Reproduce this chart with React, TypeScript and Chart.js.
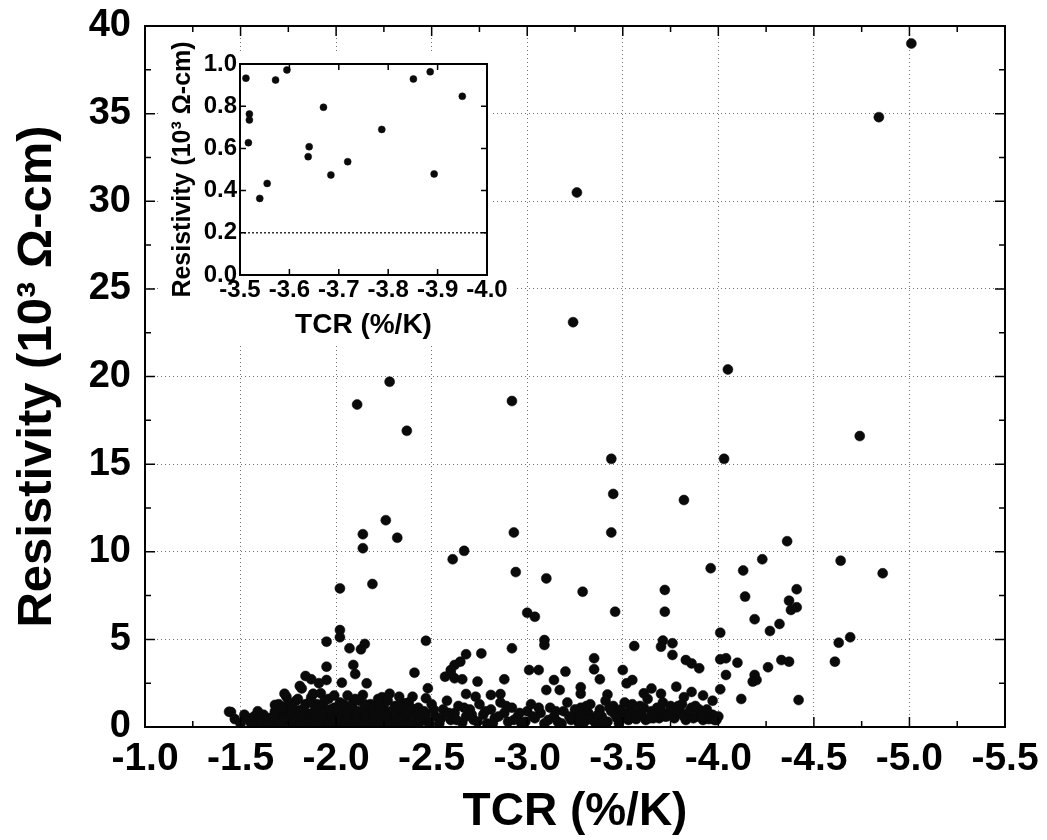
import React, { useEffect, useRef } from "react";
import { Chart, registerables } from "chart.js";

Chart.register(...registerables);

const FONT = "'Liberation Sans', Arial, Helvetica, sans-serif";

// ---------- Main chart axes ----------
const mainXMin = -5.5;
const mainXMax = -1.0;
const mainXStep = 0.5;
const mainYMin = 0;
const mainYMax = 40;
const mainYStep = 5;
const mainXTitle = "TCR (%/K)";
const mainYTitle = "Resistivity (10³ Ω-cm)";

// ---------- Main chart data: high outliers ----------
const upperTcr = [
  -5.01, -4.84, -3.26, -3.24, -2.28, -2.11, -2.37, -2.92, -4.05, -4.74,
  -4.03, -3.44, -3.45, -3.44, -3.82, -2.14, -2.14, -2.26, -2.32, -2.93,
  -2.67, -2.61, -2.94, -3.10, -3.29, -2.02, -2.19, -4.36, -4.23, -3.96,
  -4.13, -4.64, -4.86, -4.41, -4.14, -4.37, -4.38, -4.41, -4.19, -4.32,
  -4.27, -4.01, -4.69, -3.72, -3.72, -3.46, -3.00, -3.04, -2.02, -2.02,
];
const upperRes = [
  39.0, 34.8, 30.5, 23.1, 19.7, 18.4, 16.9, 18.6, 20.4, 16.6,
  15.3, 15.3, 13.3, 11.1, 12.95, 11.0, 10.2, 11.8, 10.8, 11.1,
  10.05, 9.57, 8.84, 8.48, 7.72, 7.91, 8.16, 10.6, 9.57, 9.06,
  8.93, 9.49, 8.77, 7.86, 7.44, 7.21, 6.68, 6.83, 6.15, 5.88,
  5.48, 5.38, 5.12, 7.82, 6.58, 6.58, 6.52, 6.29, 5.53, 5.12,
];

// ---------- Main chart data: middle band ----------
const midTcr = [
  -4.63, -4.61, -3.83, -3.86, -3.90, -4.01, -4.04, -4.10, -4.26, -4.33,
  -4.37, -4.04, -4.19, -4.18, -4.20, -4.01, -3.97, -4.12, -4.42, -3.09,
  -3.09, -3.56, -3.71, -3.70, -3.76, -3.76, -2.92, -2.68, -2.76, -2.62,
  -2.65, -2.60, -2.62, -2.66, -2.74, -2.88, -3.01, -3.06, -3.20, -3.14,
  -3.17, -3.28, -3.35, -3.35, -3.38, -3.50, -3.52, -3.55, -3.61, -2.68,
  -2.73, -2.81, -2.86, -3.10, -1.95, -2.07, -2.13, -2.15, -2.09, -2.10,
  -1.95, -2.47, -2.41, -2.16, -2.03, -1.95, -1.84, -1.87, -1.81, -1.92,
  -1.74, -1.68, -1.44, -2.57, -2.60, -2.48, -2.47, -2.40, -2.36, -2.33,
  -2.24, -2.14, -2.09, -3.82, -3.86, -3.92, -3.28, -3.42, -3.65, -3.70,
  -3.78,
];
const midRes = [
  4.81, 3.73, 3.82, 3.63, 3.35, 3.86, 3.92, 3.67, 3.41, 3.82,
  3.73, 2.97, 2.97, 2.59, 2.68, 2.15, 1.50, 1.60, 1.54, 4.96,
  4.68, 4.62, 4.93, 4.58, 4.78, 4.11, 4.49, 4.15, 4.20, 3.54,
  3.73, 3.25, 2.78, 2.72, 2.59, 2.72, 3.25, 3.25, 3.16, 2.68,
  2.11, 2.27, 3.92, 3.29, 2.72, 3.25, 2.49, 2.68, 1.92, 1.88,
  1.73, 1.83, 1.88, 2.11, 4.87, 4.49, 4.43, 4.74, 3.54, 3.02,
  3.44, 4.92, 3.10, 2.49, 2.53, 2.68, 2.91, 2.72, 2.34, 1.92,
  1.73, 1.26, 0.87, 2.87, 3.06, 2.21, 1.64, 1.73, 1.35, 1.73,
  1.70, 1.83, 1.44, 1.70, 2.00, 1.80, 1.90, 1.85, 2.20, 1.90,
  2.30,
];

// ---------- Main chart data: dense low cluster (part 1) ----------
const clusterTcr = [
  -1.45, -1.47, -1.50, -1.53, -1.55, -1.57, -1.58, -1.60, -1.62, -1.63,
  -1.65, -1.66, -1.68, -1.69, -1.70, -1.71, -1.72, -1.73, -1.74, -1.75,
  -1.76, -1.77, -1.78, -1.79, -1.80, -1.81, -1.82, -1.83, -1.84, -1.85,
  -1.86, -1.87, -1.88, -1.89, -1.90, -1.91, -1.92, -1.93, -1.94, -1.95,
  -1.96, -1.97, -1.98, -1.99, -2.00, -2.01, -2.02, -2.03, -2.04, -2.05,
  -2.06, -2.07, -2.08, -2.09, -2.10, -2.11, -2.12, -2.13, -2.15, -2.16,
  -2.17, -2.18, -2.19, -2.20, -2.21, -2.22, -2.23, -2.25, -2.26, -2.27,
  -2.28, -2.29, -2.30, -2.31, -2.33, -2.34, -2.35, -2.37, -2.38, -2.40,
  -2.41, -2.43, -2.45, -2.46, -2.48, -2.50, -2.52, -2.54, -2.56, -2.58,
  -2.60, -2.62, -2.64, -2.66, -2.68, -2.70, -2.72, -2.75, -2.77, -2.79,
  -2.81, -2.83, -2.86, -2.88, -2.90, -2.92, -2.95, -2.97, -3.00, -3.02,
  -3.04, -3.07, -3.09, -3.12, -3.14, -3.16, -3.19, -3.21, -3.23, -3.26,
  -3.28, -3.30, -3.32, -3.33, -3.35, -3.36, -3.38, -3.39, -3.41, -3.42,
  -3.44, -3.45, -3.47, -3.48, -3.50, -3.51, -3.53, -3.54, -3.56, -3.57,
  -3.59, -3.60, -3.62, -3.63, -3.65, -3.66, -3.68, -3.69, -3.71, -3.72,
  -3.74, -3.75, -3.77, -3.78, -3.80, -3.81, -3.83, -3.84, -3.86, -3.87,
  -3.89, -3.90, -3.92, -3.93, -3.95, -3.96, -3.98, -4.00,
];
const clusterRes = [
  0.85, 0.45, 0.20, 0.55, 0.30, 0.60, 0.15, 0.40, 0.70, 0.25,
  0.50, 0.10, 0.90, 0.35, 1.30, 0.60, 0.15, 1.90, 0.80, 0.40,
  1.10, 0.20, 0.65, 1.50, 0.30, 0.95, 2.20, 0.50, 1.30, 0.15,
  0.75, 1.70, 0.40, 1.00, 0.20, 2.50, 0.60, 1.20, 0.30, 0.90,
  1.60, 0.45, 0.15, 1.10, 0.70, 0.25, 1.40, 0.50, 0.90, 0.20,
  1.80, 0.60, 1.20, 0.35, 0.80, 0.15, 1.50, 0.55, 1.00, 0.25,
  0.70, 1.30, 0.40, 0.90, 0.15, 1.60, 0.60, 1.10, 0.30, 0.80,
  1.90, 0.45, 0.20, 1.20, 0.65, 0.30, 1.00, 0.50, 1.40, 0.80,
  0.20, 1.10, 0.50, 0.90, 0.30, 1.30, 0.60, 0.20, 1.00, 1.50,
  0.40, 0.80, 1.20, 0.25, 0.60, 1.00, 0.40, 1.30, 0.70, 0.20,
  1.00, 0.50, 1.40, 0.80, 0.30, 1.10, 0.60, 0.20, 0.90, 1.30,
  0.50, 0.80, 0.20, 1.10, 0.60, 0.30, 0.90, 1.40, 0.40, 0.70,
  1.10, 0.30, 0.80, 1.30, 0.50, 0.15, 1.00, 0.60, 1.50, 0.30,
  0.90, 1.20, 0.50, 0.20, 0.80, 1.40, 0.40, 1.00, 0.60, 0.45,
  1.20, 0.70, 0.40, 1.60, 0.90, 0.50, 1.10, 0.50, 1.40, 0.60,
  0.80, 1.20, 0.50, 0.90, 0.90, 1.30, 0.40, 0.70, 1.10, 0.50,
  0.60, 1.00, 0.40, 0.80, 0.45, 0.55, 0.40, 0.60,
];

// ---------- Main chart data: dense low cluster (part 2) ----------
const cluster2Tcr = [
  -1.52, -1.56, -1.59, -1.61, -1.64, -1.67, -1.69, -1.70, -1.72, -1.73,
  -1.75, -1.76, -1.77, -1.78, -1.80, -1.81, -1.82, -1.83, -1.85, -1.86,
  -1.87, -1.88, -1.89, -1.90, -1.92, -1.93, -1.94, -1.96, -1.97, -1.98,
  -1.99, -2.00, -2.01, -2.02, -2.04, -2.05, -2.06, -2.08, -2.09, -2.10,
  -2.11, -2.12, -2.14, -2.15, -2.16, -2.18, -2.19, -2.20, -2.22, -2.23,
  -2.24, -2.26, -2.27, -2.28, -2.30, -2.32, -2.33, -2.35, -2.36, -2.38,
  -2.39, -2.42, -2.44, -2.47, -2.49, -2.51, -2.55, -2.59, -2.63, -2.67,
  -2.71, -2.74, -2.78, -2.82, -2.85, -2.89, -2.93, -2.96, -2.99, -3.03,
  -3.06, -3.11, -3.15, -3.18, -3.22, -3.25, -3.27, -3.29, -3.31, -3.34,
  -3.37, -3.40, -3.43, -3.46, -3.49, -3.52, -3.55, -3.58, -3.61, -3.64,
  -3.67, -3.70, -3.73, -3.76, -3.79, -3.82, -3.85, -3.88, -3.91, -3.94,
  -3.97, -3.99,
];
const cluster2Res = [
  0.70, 0.10, 0.90, 0.20, 0.35, 0.60, 1.00, 0.25, 1.10, 0.50,
  1.40, 0.70, 1.20, 0.35, 1.60, 0.10, 0.60, 1.00, 0.45, 1.40,
  0.20, 1.90, 0.60, 1.30, 0.35, 0.80, 1.50, 0.20, 1.00, 0.60,
  1.80, 0.30, 1.00, 0.55, 1.30, 0.40, 0.80, 0.15, 1.00, 1.60,
  0.50, 0.90, 0.30, 1.30, 0.60, 0.20, 1.10, 0.50, 0.90, 1.30,
  0.30, 0.70, 1.50, 0.20, 1.00, 0.50, 1.20, 0.30, 0.80, 0.20,
  1.10, 0.60, 0.30, 0.70, 0.15, 1.00, 0.50, 0.80, 0.40, 1.10,
  0.70, 0.30, 0.90, 0.20, 0.60, 1.20, 0.40, 0.80, 0.30, 0.60,
  1.10, 0.40, 0.90, 0.20, 0.60, 1.00, 0.30, 0.70, 1.20, 0.40,
  0.70, 0.30, 1.10, 0.70, 1.00, 0.50, 1.30, 0.80, 1.10, 0.50,
  0.80, 1.00, 0.60, 0.90, 1.20, 0.60, 0.90, 1.20, 0.60, 1.00,
  0.70, 0.40,
];

// ---------- Inset axes & data ----------
const insetXMin = -4.0;
const insetXMax = -3.5;
const insetXStep = 0.1;
const insetYMin = 0;
const insetYMax = 1.0;
const insetYStep = 0.2;
const insetGridValues = [0.2];
const insetTcr = [
  -3.512, -3.572, -3.595, -3.519, -3.519, -3.517, -3.540, -3.555,
  -3.669, -3.640, -3.638, -3.684, -3.718, -3.787, -3.851, -3.885,
  -3.893, -3.950,
];
const insetRes = [
  0.933, 0.924, 0.972, 0.763, 0.735, 0.627, 0.363, 0.434,
  0.795, 0.608, 0.561, 0.474, 0.537, 0.690, 0.929, 0.963,
  0.479, 0.847,
];

const toPoints = (xs: number[], ys: number[]) => xs.map((x, i) => ({ x, y: ys[i] }));

function makeFramePlugin(id: string, frameWidth: number, majorLen: number, minorLen: number, withMinor: boolean) {
  return {
    id,
    afterDraw(chart: any) {
      const { ctx, chartArea: a } = chart;
      const xs = chart.scales.x;
      const ys = chart.scales.y;
      const xv: number[] = xs.ticks.map((t: any) => t.value);
      const yv: number[] = ys.ticks.map((t: any) => t.value);
      ctx.save();
      ctx.strokeStyle = "#000";
      ctx.lineWidth = 1.5;
      ctx.beginPath();
      const drawX = (v: number, len: number) => {
        const p = xs.getPixelForValue(v);
        ctx.moveTo(p, a.bottom);
        ctx.lineTo(p, a.bottom - len);
        ctx.moveTo(p, a.top);
        ctx.lineTo(p, a.top + len);
      };
      const drawY = (v: number, len: number) => {
        const p = ys.getPixelForValue(v);
        ctx.moveTo(a.left, p);
        ctx.lineTo(a.left + len, p);
        ctx.moveTo(a.right, p);
        ctx.lineTo(a.right - len, p);
      };
      xv.forEach((v) => drawX(v, majorLen));
      yv.forEach((v) => drawY(v, majorLen));
      if (withMinor) {
        for (let i = 0; i < xv.length - 1; i++) drawX((xv[i] + xv[i + 1]) / 2, minorLen);
        for (let i = 0; i < yv.length - 1; i++) drawY((yv[i] + yv[i + 1]) / 2, minorLen);
      }
      ctx.stroke();
      ctx.lineWidth = frameWidth;
      ctx.strokeRect(a.left, a.top, a.right - a.left, a.bottom - a.top);
      ctx.restore();
    },
  };
}

const insetBackground = {
  id: "insetBg",
  beforeDraw(chart: any) {
    const { ctx, chartArea: a, width, height } = chart;
    ctx.save();
    ctx.fillStyle = "#fff";
    const top = a.top - 12;
    ctx.fillRect(0, top, a.right + 4, height - top);
    ctx.fillRect(0, a.bottom, width, height - a.bottom);
    ctx.restore();
  },
};

const zeroPad = (s: any) => {
  s.paddingTop = 0;
  s.paddingBottom = 0;
  s.paddingLeft = 0;
  s.paddingRight = 0;
};

export default function App() {
  const mainRef = useRef<HTMLCanvasElement>(null);
  const insetRef = useRef<HTMLCanvasElement>(null);

  useEffect(() => {
    const mainData = [
      ...toPoints(upperTcr, upperRes),
      ...toPoints(midTcr, midRes),
      ...toPoints(clusterTcr, clusterRes),
      ...toPoints(cluster2Tcr, cluster2Res),
    ];
    const main = new Chart(mainRef.current as HTMLCanvasElement, {
      type: "scatter",
      data: {
        datasets: [
          {
            data: mainData,
            pointRadius: 5,
            pointHoverRadius: 5,
            backgroundColor: "#0a0a0a",
            borderColor: "#0a0a0a",
            borderWidth: 0.5,
          },
        ],
      },
      options: {
        responsive: false,
        animation: false,
        events: [],
        layout: { padding: { top: 26, right: 42, left: 0, bottom: 0 } },
        plugins: { legend: { display: false }, tooltip: { enabled: false } },
        scales: {
          x: {
            type: "linear",
            reverse: true,
            min: mainXMin,
            max: mainXMax,
            ticks: {
              stepSize: mainXStep,
              autoSkip: false,
              maxRotation: 0,
              padding: 13,
              color: "#000",
              font: { family: FONT, size: 39, weight: "bold", lineHeight: 1 },
              callback: (v: any) => Number(v).toFixed(1),
            },
            grid: { color: "rgba(0,0,0,0.55)", lineWidth: 1, drawTicks: false },
            border: { display: false, dash: [1, 3] },
            title: {
              display: true,
              text: mainXTitle,
              color: "#000",
              font: { family: FONT, size: 46, weight: "bold", lineHeight: 1 },
              padding: { top: 0, bottom: 5 },
            },
            afterFit: (s: any) => {
              s.height = 113;
              zeroPad(s);
            },
          },
          y: {
            type: "linear",
            min: mainYMin,
            max: mainYMax,
            ticks: {
              stepSize: mainYStep,
              autoSkip: false,
              padding: 14,
              color: "#000",
              font: { family: FONT, size: 38, weight: "bold", lineHeight: 1 },
              callback: (v: any) => String(Math.round(Number(v))),
            },
            grid: { color: "rgba(0,0,0,0.55)", lineWidth: 1, drawTicks: false },
            border: { display: false, dash: [1, 3] },
            title: {
              display: true,
              text: mainYTitle,
              color: "#000",
              font: { family: FONT, size: 49, weight: "bold", lineHeight: 1 },
              padding: { top: 13, bottom: 0 },
            },
            afterFit: (s: any) => {
              s.width = 145;
              zeroPad(s);
            },
          },
        },
      },
      plugins: [makeFramePlugin("mainFrame", 2, 10, 6, true)],
    } as any);

    const inset = new Chart(insetRef.current as HTMLCanvasElement, {
      type: "scatter",
      data: {
        datasets: [
          {
            data: toPoints(insetTcr, insetRes),
            pointRadius: 3.5,
            pointHoverRadius: 3.5,
            backgroundColor: "#0a0a0a",
            borderColor: "#0a0a0a",
            borderWidth: 0.5,
          },
        ],
      },
      options: {
        responsive: false,
        animation: false,
        events: [],
        layout: { padding: { top: 39, right: 28, left: 0, bottom: 0 } },
        plugins: { legend: { display: false }, tooltip: { enabled: false } },
        scales: {
          x: {
            type: "linear",
            reverse: true,
            min: insetXMin,
            max: insetXMax,
            ticks: {
              stepSize: insetXStep,
              autoSkip: false,
              maxRotation: 0,
              padding: 3,
              color: "#000",
              font: { family: FONT, size: 24, weight: "bold", lineHeight: 1 },
              callback: (v: any) => Number(v).toFixed(1),
            },
            grid: { display: false, drawTicks: false },
            border: { display: false },
            title: {
              display: true,
              text: mainXTitle,
              color: "#000",
              font: { family: FONT, size: 28, weight: "bold", lineHeight: 1 },
              padding: { top: 0, bottom: 6 },
            },
            afterFit: (s: any) => {
              s.height = 70;
              zeroPad(s);
            },
          },
          y: {
            type: "linear",
            min: insetYMin,
            max: insetYMax,
            ticks: {
              stepSize: insetYStep,
              autoSkip: false,
              padding: 3,
              color: "#000",
              font: { family: FONT, size: 24, weight: "bold", lineHeight: 1 },
              callback: (v: any) => Number(v).toFixed(1),
            },
            grid: {
              drawTicks: false,
              lineWidth: 1.5,
              color: (c: any) =>
                c.tick && insetGridValues.some((g) => Math.abs(c.tick.value - g) < 1e-6)
                  ? "rgba(0,0,0,0.8)"
                  : "rgba(0,0,0,0)",
            },
            border: { display: false, dash: [2, 2] },
            title: {
              display: true,
              text: mainYTitle,
              color: "#000",
              font: { family: FONT, size: 25, weight: "bold", lineHeight: 1 },
              padding: { top: 11, bottom: 0 },
            },
            afterFit: (s: any) => {
              s.width = 80;
              zeroPad(s);
            },
          },
        },
      },
      plugins: [insetBackground, makeFramePlugin("insetFrame", 2, 6, 4, false)],
    } as any);

    return () => {
      main.destroy();
      inset.destroy();
    };
  }, []);

  return (
    <div style={{ position: "absolute", left: 0, top: 0, width: 1047, height: 840, background: "#fff" }}>
      <canvas ref={mainRef} width={1047} height={840} style={{ position: "absolute", left: 0, top: 0 }} />
      <canvas ref={insetRef} width={355} height={320} style={{ position: "absolute", left: 160, top: 25 }} />
    </div>
  );
}
